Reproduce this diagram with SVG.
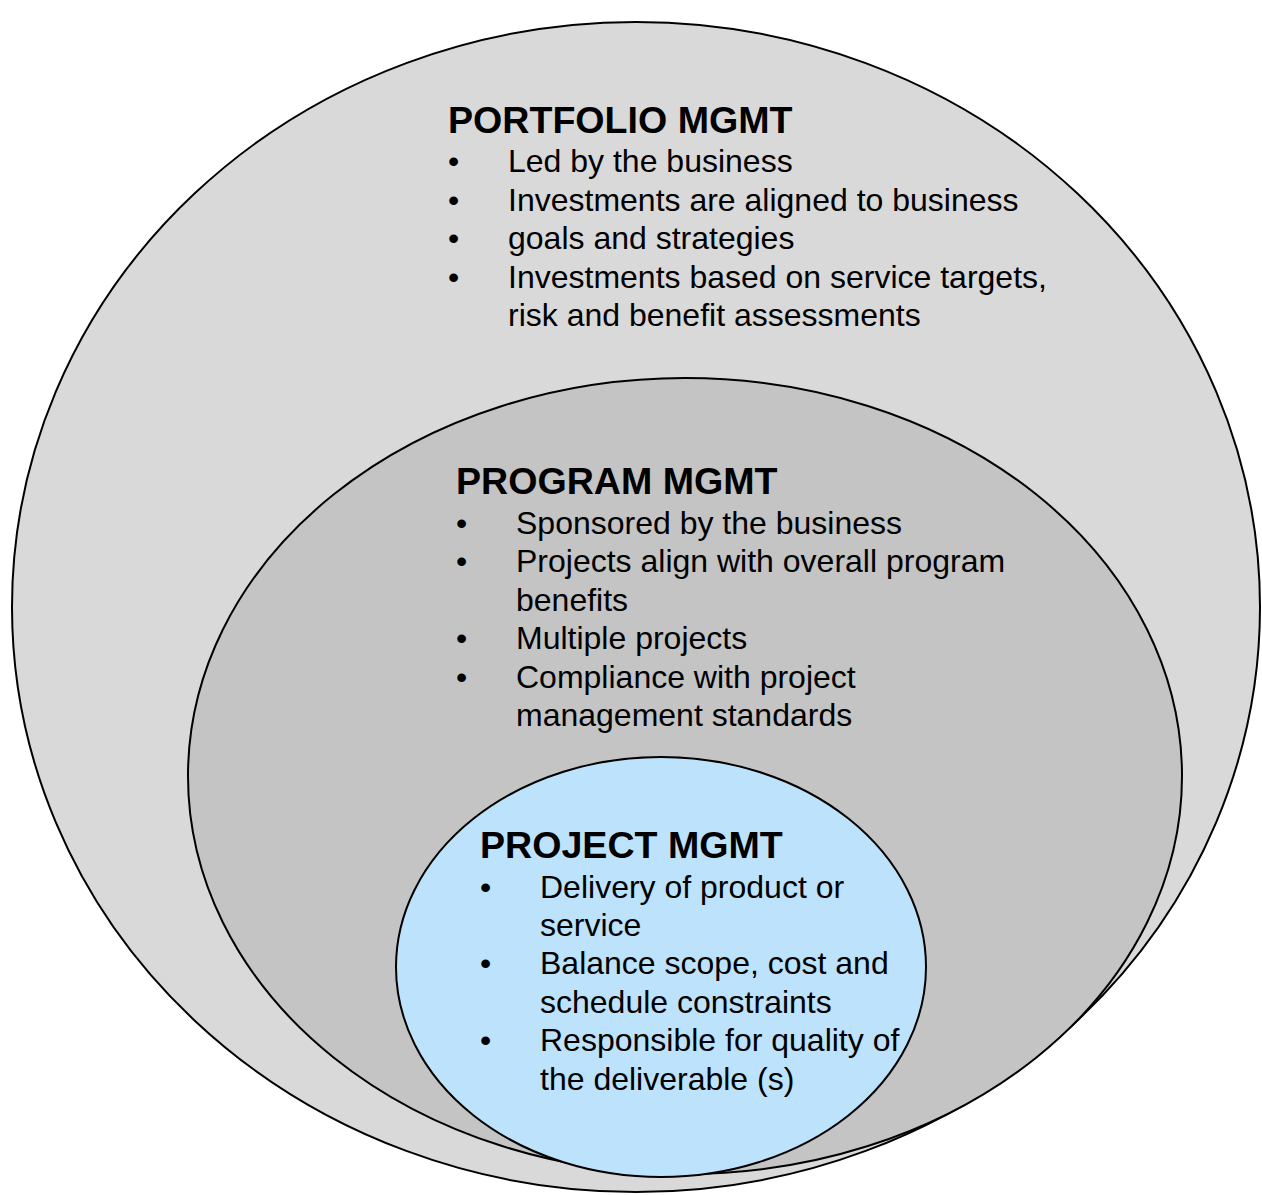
<svg xmlns="http://www.w3.org/2000/svg" width="1262" height="1195" viewBox="0 0 1262 1195">
<style>
.ring{stroke:#000;stroke-width:2}
.title{font-family:"Liberation Sans",Arial,sans-serif;font-weight:bold;font-size:37.6px;fill:#000}
.body{font-family:"Liberation Sans",Arial,sans-serif;font-size:32px;fill:#000}
</style>
<rect width="1262" height="1195" fill="#fff"/>
<g id="portfolio">
<ellipse class="ring" cx="636" cy="607" rx="624" ry="585" fill="#d9d9d9"/>
<text class="title" x="448" y="133">PORTFOLIO MGMT</text>
<text class="body" x="448" y="172">•</text><text class="body" x="508" y="172">Led by the business</text>
<text class="body" x="448" y="211">•</text><text class="body" x="508" y="211">Investments are aligned to business</text>
<text class="body" x="448" y="249">•</text><text class="body" x="508" y="249">goals and strategies</text>
<text class="body" x="448" y="288">•</text><text class="body" x="508" y="288">Investments based on service targets,</text>
<text class="body" x="508" y="326">risk and benefit assessments</text>
</g>
<g id="program">
<ellipse class="ring" cx="685" cy="776" rx="497" ry="398" fill="#c4c4c4"/>
<text class="title" x="456" y="494">PROGRAM MGMT</text>
<text class="body" x="456" y="534">•</text><text class="body" x="516" y="534">Sponsored by the business</text>
<text class="body" x="456" y="572">•</text><text class="body" x="516" y="572">Projects align with overall program</text>
<text class="body" x="516" y="611">benefits</text>
<text class="body" x="456" y="649">•</text><text class="body" x="516" y="649">Multiple projects</text>
<text class="body" x="456" y="688">•</text><text class="body" x="516" y="688">Compliance with project</text>
<text class="body" x="516" y="726">management standards</text>
</g>
<g id="project">
<ellipse class="ring" cx="661" cy="967" rx="265" ry="210" fill="#bde2fb"/>
<text class="title" x="480" y="858">PROJECT MGMT</text>
<text class="body" x="480" y="898">•</text><text class="body" x="540" y="898">Delivery of product or</text>
<text class="body" x="540" y="936">service</text>
<text class="body" x="480" y="974">•</text><text class="body" x="540" y="974">Balance scope, cost and</text>
<text class="body" x="540" y="1013">schedule constraints</text>
<text class="body" x="480" y="1051">•</text><text class="body" x="540" y="1051">Responsible for quality of</text>
<text class="body" x="540" y="1090">the deliverable (s)</text>
</g>
<g id="connectors"></g>
</svg>
